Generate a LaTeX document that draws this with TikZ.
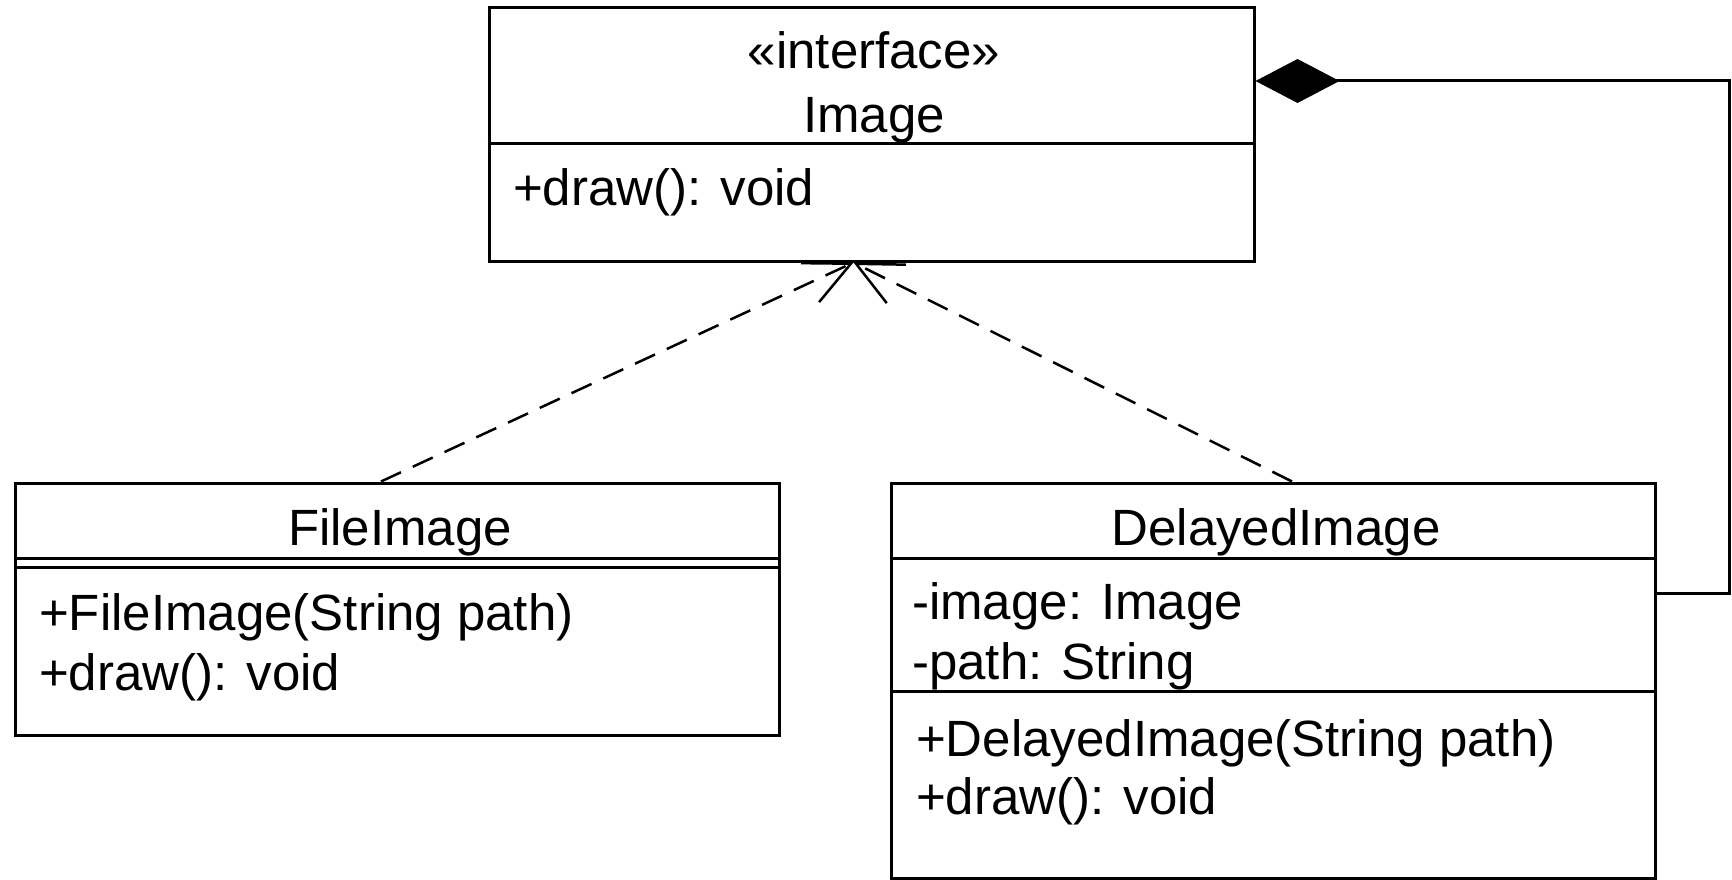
\documentclass[tikz,border=0pt]{standalone}
\usepackage{fontspec}
\setmainfont{Liberation Sans}
\usetikzlibrary{arrows.meta,calc}
\begin{document}
\begin{tikzpicture}[x=1pt,y=-1pt,
  umlbox/.style={draw, line width=3pt, rectangle, inner sep=0pt},
  sepline/.style={line width=3pt},
  txt/.style={inner sep=0pt, font=\fontsize{51}{60}\selectfont},
  realize/.style={line width=2.5pt, dash pattern=on 22pt off 13pt,
    -{Straight Barb[length=45pt,width=43pt,line width=2.5pt]}},
  compose/.style={line width=3pt, {Diamond[length=84pt,width=44pt,fill=black]}-}
]
\useasboundingbox (0,0) rectangle (1732,880);
% boxes
\node[umlbox, minimum width=765pt, minimum height=253pt] (img) at (871.5,134.5) {};
\draw[sepline] (img.west |- 0,144) -- (img.east |- 0,144);
\node[umlbox, minimum width=764pt, minimum height=252pt] (fi) at (397,609) {};
\draw[sepline] (fi.west |- 0,558) -- (fi.east |- 0,558);
\draw[sepline] (fi.west |- 0,567) -- (fi.east |- 0,567);
\node[umlbox, minimum width=764pt, minimum height=395pt] (dly) at (1273,680.5) {};
\draw[sepline] (dly.west |- 0,558) -- (dly.east |- 0,558);
\draw[sepline] (dly.west |- 0,691) -- (dly.east |- 0,691);
% texts
\node[txt, anchor=base] (imgst) at (874,68.5) {«interface»};
\node[txt, anchor=base] (imgname) at (874,132.5) {Image};
\node[txt, anchor=base west] (imgm) at (513,205) {+draw(): void};
\node[txt, anchor=base] (finame) at (400,545) {FileImage};
\node[txt, anchor=base west] (fim1) at (39,630) {+FileImage(String path)};
\node[txt, anchor=base west] (fim2) at (39,690) {+draw(): void};
\node[txt, anchor=base] (dname) at (1276,545) {DelayedImage};
\node[txt, anchor=base west] (da1) at (912,619) {-image: Image};
\node[txt, anchor=base west] (da2) at (912,679) {-path: String};
\node[txt, anchor=base west] (dm1) at (916,756) {+DelayedImage(String path)};
\node[txt, anchor=base west] (dm2) at (916,814) {+draw(): void};
% connectors
\coordinate (tip) at ($(img.south)+(-18,0)$);
\draw[realize] ($(fi.north)+(-16,0)$) -- (tip);
\draw[realize] ($(dly.north)+(19,0)$) -- (tip);
\coordinate (bendA) at (1729,81);
\coordinate (bendB) at (1729,593);
\draw[compose] (img.east |- bendA) -- (bendA) -- (bendB) -- (dly.east |- bendB);
\end{tikzpicture}
\end{document}
